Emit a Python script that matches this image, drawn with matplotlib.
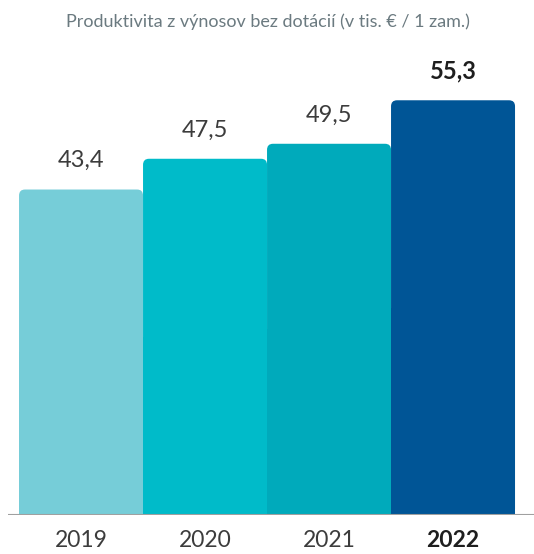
import matplotlib.pyplot as plt
from matplotlib.patches import FancyBboxPatch, Rectangle

years = ['2019', '2020', '2021', '2022']
values = [43.4, 47.5, 49.5, 55.3]
labels = ['43,4', '47,5', '49,5', '55,3']
colors = ['#76cdd8', '#00bbc9', '#00aabb', '#005596']
title = 'Produktivita z výnosov bez dotácií (v tis. € / 1 zam.)'

plt.rcParams['font.family'] = ['Lato', 'DejaVu Sans']

fig = plt.figure(figsize=(5.34, 5.54), dpi=100)
ax = fig.add_axes([8 / 534, 39 / 554, 526 / 534, 515 / 554])

x = range(len(years))
bars = ax.bar(x, values, width=1.0, color=colors)
ax.set_xlim(-0.589, 3.653)
ax.set_ylim(0, 68.67)

# swap plain bars for ones with rounded top corners
px_x = 124.0   # pixels per x unit
px_y = 7.5     # pixels per y unit
rad = 6 / px_x
for b, c in zip(bars, colors):
    b.set_visible(False)
    x0, w, h = b.get_x(), b.get_width(), b.get_height()
    ax.add_patch(FancyBboxPatch((x0, 0), w, h,
                                boxstyle='round,pad=0,rounding_size=%f' % rad,
                                mutation_aspect=px_x / px_y,
                                fc=c, ec='none'))
    ax.add_patch(Rectangle((x0, 0), w, h / 2, fc=c, ec='none'))

for i, (v, lab) in enumerate(zip(values, labels)):
    bold = i == len(values) - 1
    ax.annotate(lab, (i, v), xytext=(0, 16), textcoords='offset points',
                ha='center', va='baseline', fontsize=17,
                fontweight='bold' if bold else 'normal',
                color='#1e1e1e' if bold else '#3c3c3c')

ax.axhline(0, color='#a0a0a0', lw=1.5, zorder=5)

ax.set_xticks(list(x))
ax.set_xticklabels(years, fontsize=16.5)
for i, t in enumerate(ax.get_xticklabels()):
    if i == len(years) - 1:
        t.set_fontweight('bold')
        t.set_color('#1e1e1e')
    else:
        t.set_fontweight('normal')
        t.set_color('#3c3c3c')
ax.tick_params(axis='x', length=0, pad=11)
ax.set_yticks([])
for s in ax.spines.values():
    s.set_visible(False)

fig.text(268 / 534, 1 - 22 / 554, title, ha='center', va='center',
         fontsize=13, color='#6b7a80')

fig.savefig('out.png', dpi=100)
